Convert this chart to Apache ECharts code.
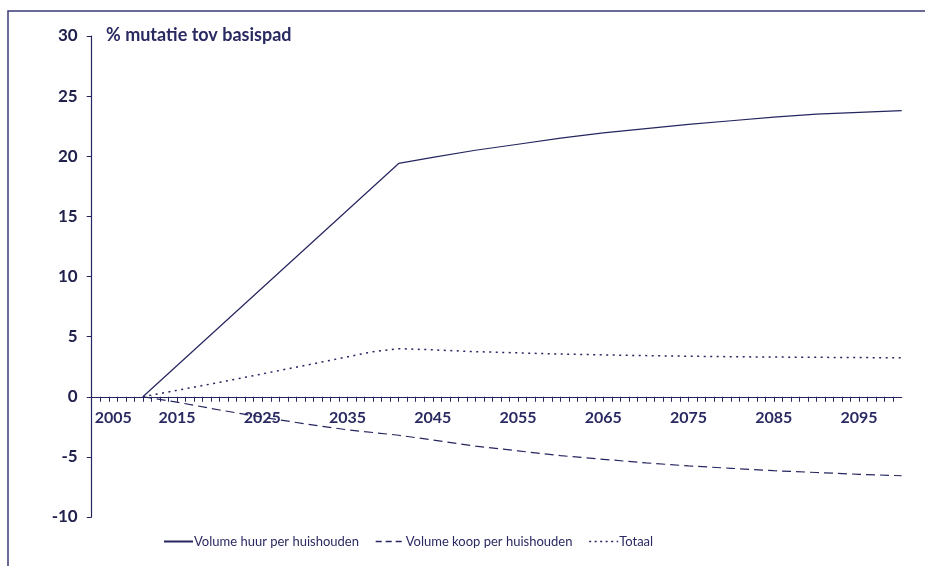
<!DOCTYPE html>
<html>
<head>
<meta charset="utf-8">
<script src="https://cdn.jsdelivr.net/npm/echarts@6/dist/echarts.min.js"></script>
<style>html,body{margin:0;padding:0;background:#fff;}#c{width:925px;height:566px;}</style>
</head>
<body>
<div id="c"></div>
<script>
// Data
var seriesNames = ['Volume huur per huishouden', 'Volume koop per huishouden', 'Totaal'];
var years = [2011, 2041, 2045, 2050, 2055, 2060, 2065, 2070, 2075, 2080, 2085, 2090, 2095, 2100];
var huur  = [0, 19.4, 19.9, 20.5, 21.0, 21.5, 21.95, 22.3, 22.65, 22.95, 23.25, 23.5, 23.65, 23.8];
var koopYears = [2011, 2015, 2020, 2025, 2030, 2035, 2041, 2045, 2050, 2055, 2060, 2065, 2070, 2075, 2080, 2085, 2090, 2095, 2100];
var koop  = [0, -0.45, -1.1, -1.7, -2.25, -2.75, -3.2, -3.6, -4.1, -4.5, -4.9, -5.2, -5.5, -5.75, -5.95, -6.15, -6.3, -6.45, -6.57];
var totaalYears = [2011, 2020, 2030, 2038, 2041, 2045, 2050, 2055, 2060, 2065, 2070, 2075, 2080, 2085, 2090, 2095, 2100];
var totaal = [0, 1.2, 2.6, 3.75, 4.0, 3.9, 3.75, 3.65, 3.55, 3.48, 3.42, 3.37, 3.33, 3.3, 3.28, 3.26, 3.24];
var xTickLabels = ['2005', '2015', '2025', '2035', '2045', '2055', '2065', '2075', '2085', '2095'];
var yTicks = [-10, -5, 0, 5, 10, 15, 20, 25, 30];

function pairs(xs, ys) { return xs.map(function (x, i) { return [x, ys[i]]; }); }

var navy = '#25255f';
var textNavy = '#2a2a62';
var gridTop = 36, gridBottom = 49, H = 566;
var plotH = H - gridTop - gridBottom;
var yMin = yTicks[0], yMax = yTicks[yTicks.length - 1];
// move the x axis (line, ticks, labels) up to the zero line
var zeroOffset = -plotH * (0 - yMin) / (yMax - yMin);

var chart = echarts.init(document.getElementById('c'));
chart.setOption({
  animation: false,
  backgroundColor: '#ffffff',
  title: {
    text: '% mutatie tov basispad',
    left: 101, top: 21,
    textStyle: { fontFamily: 'Lato', fontWeight: 'bold', fontSize: 18, color: textNavy }
  },
  grid: { left: 91.7, right: 23.3, top: gridTop, bottom: gridBottom, containLabel: false },
  legend: {
    left: 163, top: 535, padding: 0,
    itemWidth: 29, itemHeight: 10, itemGap: 16,
    data: [
      { name: seriesNames[0] },
      { name: seriesNames[1], lineStyle: { type: [6, 4], width: 1.5 } },
      { name: seriesNames[2], lineStyle: { type: [2, 3.5], width: 1.5 } }
    ],
    itemStyle: { opacity: 0 },
    textStyle: { fontFamily: 'Lato', fontSize: 13, color: textNavy, padding: [0, 0, 0, -4] }
  },
  xAxis: {
    type: 'value', min: 2005, max: 2100, interval: 1,
    offset: zeroOffset,
    splitLine: { show: false },
    axisLine: { onZero: false, lineStyle: { color: navy, width: 1.2 } },
    axisTick: { show: true, length: 5, lineStyle: { color: navy, width: 1 } },
    axisLabel: {
      margin: 13, showMinLabel: true, showMaxLabel: false,
      fontFamily: 'Lato', fontWeight: 'bold', fontSize: 16, color: textNavy,
      formatter: function (v) {
        var s = String(v);
        if (xTickLabels.indexOf(s) < 0) return '';
        if (s === xTickLabels[0]) return '{first|' + s + '}';
        return s;
      },
      rich: { first: { padding: [0, 0, 0, 43], fontFamily: 'Lato', fontWeight: 'bold', fontSize: 16, color: textNavy } }
    }
  },
  yAxis: {
    type: 'value', min: yMin, max: yMax, interval: 5,
    splitLine: { show: false },
    axisLine: { show: true, lineStyle: { color: navy, width: 1.2 } },
    axisTick: { show: true, length: 5, lineStyle: { color: navy, width: 1 } },
    axisLabel: { margin: 14, fontFamily: 'Lato', fontWeight: 'bold', fontSize: 17, color: '#20204c' }
  },
  series: [
    { name: seriesNames[0], type: 'line', symbol: 'none', data: pairs(years, huur),
      lineStyle: { color: navy, width: 1.2, type: 'solid' }, itemStyle: { color: navy } },
    { name: seriesNames[1], type: 'line', symbol: 'none', data: pairs(koopYears, koop),
      lineStyle: { color: navy, width: 1.2, type: [9, 5] }, itemStyle: { color: navy } },
    { name: seriesNames[2], type: 'line', symbol: 'none', data: pairs(totaalYears, totaal),
      lineStyle: { color: navy, width: 1.5, type: [2, 4.5] }, itemStyle: { color: navy } }
  ],
  graphic: [{
    type: 'rect', silent: true,
    shape: { x: 8, y: 11, width: 1000, height: 1000 },
    style: { fill: null, stroke: '#3a3a78', lineWidth: 1.5 }
  }]
});
</script>
</body>
</html>
